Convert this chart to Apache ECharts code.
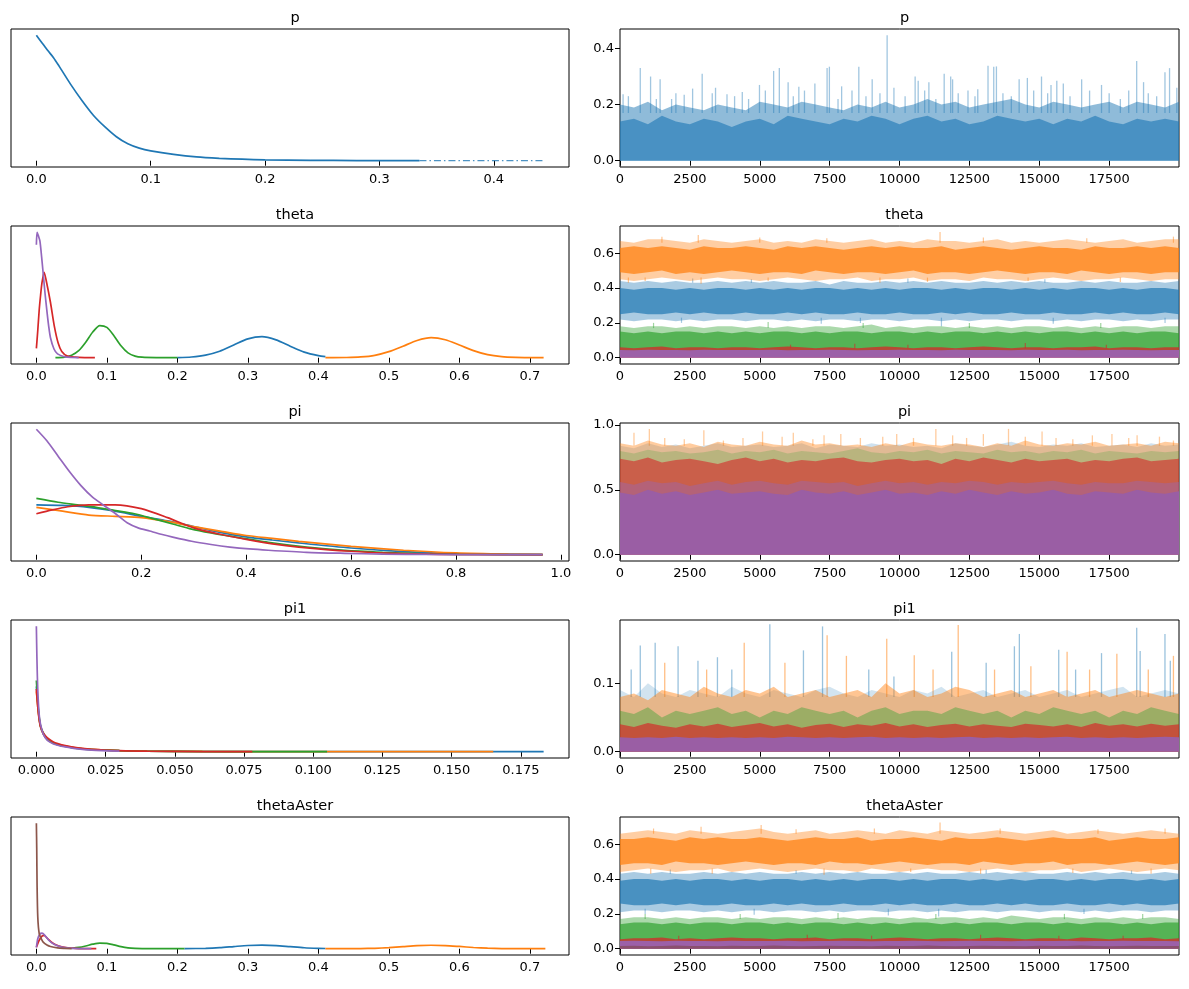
<!DOCTYPE html>
<html><head><meta charset="utf-8">
<script src="https://cdn.jsdelivr.net/npm/echarts@6/dist/echarts.min.js"></script>
<style>html,body{margin:0;padding:0;background:#fff}#c{width:1189px;height:989px}</style>
</head><body><div id="c"></div><script>
// ---------------- tick labels ----------------
const pKdeTicks = [0, 0.1, 0.2, 0.3, 0.4];
const thetaKdeTicks = [0, 0.1, 0.2, 0.3, 0.4, 0.5, 0.6, 0.7];
const piKdeTicks = [0, 0.2, 0.4, 0.6, 0.8, 1.0];
const pi1KdeTicks = [0, 0.025, 0.05, 0.075, 0.1, 0.125, 0.15, 0.175];
const iterTicks = [0, 2500, 5000, 7500, 10000, 12500, 15000, 17500];
const pTraceTicks = [0, 0.2, 0.4];
const thetaTraceTicks = [0, 0.2, 0.4, 0.6];
const piTraceTicks = [0, 0.5, 1.0];
const pi1TraceTicks = [0, 0.1];
const titles = ['p', 'theta', 'pi', 'pi1', 'thetaAster'];

// ---------------- KDE curves (left column) ----------------
const pKdeX = [0,0.005,0.01,0.015,0.02,0.03,0.04,0.05,0.06,0.07,0.08,0.09,0.1,0.12,0.14,0.16,0.18,0.2,0.24,0.28,0.335];
const pKdeY = [23.0,21.6,20.2,18.9,17.3,14.0,11.0,8.3,6.2,4.4,3.1,2.3,1.8,1.15,0.69,0.44,0.28,0.16,0.07,0.035,0.02];
const pKdeTailX = [0.335,0.4436];
const pKdeTailY = [0.02,0.01];

const thetaBlueX = [0.2,0.22,0.24,0.26,0.28,0.30,0.32,0.34,0.36,0.38,0.40,0.41];
const thetaBlueY = [0.08,0.37,1.27,3.2,6.3,9.3,10.4,8.8,5.7,2.76,1.0,0.55];
const thetaOrangeX = [0.41,0.44,0.46,0.48,0.50,0.52,0.54,0.56,0.58,0.60,0.62,0.64,0.66,0.68,0.70,0.7195];
const thetaOrangeY = [0.02,0.1,0.38,1.2,3.0,5.7,8.5,9.9,8.9,6.3,3.5,1.5,0.5,0.13,0.03,0.01];
const thetaGreenX = [0.027,0.04,0.05,0.06,0.07,0.08,0.09,0.1,0.11,0.12,0.13,0.14,0.15,0.17,0.2];
const thetaGreenY = [0.04,0.33,1.25,3.5,7.7,12.7,15.9,15.0,10.9,5.9,2.4,0.8,0.25,0.04,0.01];
const thetaRedX = [0,0.002,0.004,0.006,0.008,0.011,0.0145,0.02,0.0255,0.031,0.036,0.044,0.055,0.07,0.083];
const thetaRedY = [4.6,13.6,23.6,31,37.2,42.2,37.2,27.3,15.5,7.1,3.1,0.8,0.25,0.06,0.01];
const thetaPurpleX = [0,0.001,0.003,0.005,0.0075,0.01,0.0125,0.015,0.0175,0.02,0.025,0.03,0.04,0.05,0.06];
const thetaPurpleY = [55.8,62,60.1,57.7,49.6,40.3,31,22.9,15.5,9.9,4.3,1.9,0.5,0.12,0.02];

const piBlueX = [0,0.05,0.1,0.15,0.2,0.25,0.3,0.35,0.4,0.45,0.5,0.6,0.7,0.8,0.965];
const piBlueY = [1.56,1.54,1.48,1.36,1.2,1.06,0.88,0.7,0.56,0.46,0.37,0.21,0.096,0.032,0.001];
const piOrangeX = [0,0.05,0.1,0.15,0.2,0.25,0.3,0.35,0.4,0.45,0.5,0.6,0.7,0.8,0.9,0.965];
const piOrangeY = [1.48,1.36,1.24,1.2,1.16,1.04,0.88,0.74,0.6,0.51,0.42,0.26,0.14,0.056,0.016,0.004];
const piGreenX = [0,0.0415,0.078,0.114,0.151,0.187,0.224,0.26,0.296,0.333,0.369,0.442,0.515,0.588,0.66,0.733,0.806,0.88,0.965];
const piGreenY = [1.76,1.64,1.56,1.48,1.38,1.28,1.12,0.96,0.8,0.68,0.58,0.39,0.24,0.136,0.076,0.032,0.012,0.004,0.001];
const piRedX = [0,0.03,0.06,0.1,0.15,0.2,0.25,0.3,0.35,0.4,0.45,0.5,0.6,0.7,0.8,0.965];
const piRedY = [1.28,1.4,1.5,1.56,1.56,1.44,1.16,0.84,0.64,0.48,0.34,0.24,0.108,0.032,0.008,0.001];
const piPurpleX = [0,0.02,0.0415,0.063,0.085,0.107,0.129,0.151,0.173,0.194,0.216,0.238,0.26,0.296,0.333,0.369,0.406,0.442,0.515,0.588,0.66,0.75,0.85,0.965];
const piPurpleY = [3.92,3.56,3.08,2.6,2.16,1.8,1.54,1.28,1.0,0.84,0.74,0.64,0.55,0.42,0.32,0.24,0.18,0.14,0.076,0.044,0.02,0.008,0.004,0.001];

const pi1BlueX = [0,0.0005,0.001,0.0015,0.0025,0.004,0.006,0.008,0.01,0.015,0.02,0.03,0.04,0.06,0.08,0.1,0.13,0.16,0.1832];
const pi1BlueY = [130,95,67.5,50,35,23.7,17.5,13.7,11.2,6.5,4,2,1.1,0.5,0.25,0.15,0.1,0.08,0.05];
const pi1OrangeX = [0,0.0005,0.001,0.0015,0.0025,0.004,0.006,0.008,0.01,0.015,0.02,0.03,0.04,0.06,0.08,0.1,0.13,0.165];
const pi1OrangeY = [120,90,65,50,35,25,18,14.2,11.7,7,4.5,2.2,1.2,0.55,0.3,0.2,0.12,0.08];
const pi1GreenX = [0,0.0005,0.001,0.0015,0.0025,0.004,0.006,0.008,0.01,0.015,0.02,0.03,0.04,0.06,0.08,0.105];
const pi1GreenY = [142,100,70,52,37.5,25,17.5,13.7,11.2,6.7,4.2,2,1,0.38,0.2,0.1];
const pi1RedX = [0,0.0005,0.001,0.0015,0.0025,0.004,0.006,0.008,0.01,0.015,0.02,0.03,0.04,0.06,0.078];
const pi1RedY = [125,90,65,50,37.5,27.5,20,15.7,12.5,7.5,4.7,2.2,1.1,0.38,0.12];
const pi1PurpleX = [0,0.0002,0.0005,0.001,0.0015,0.0025,0.004,0.006,0.008,0.01,0.015,0.02,0.03];
const pi1PurpleY = [250,187,125,75,55,35,22.5,16,12.5,10,5.5,3.2,1.2];

const taBlueX = [0.21,0.24,0.26,0.28,0.30,0.32,0.34,0.36,0.38,0.40,0.41];
const taBlueY = [0.2,1.2,3.1,6.2,9.2,10.3,8.9,5.8,2.8,1.05,0.6];
const taOrangeX = [0.41,0.44,0.46,0.48,0.50,0.52,0.54,0.56,0.58,0.60,0.62,0.64,0.66,0.68,0.70,0.722];
const taOrangeY = [0.03,0.1,0.4,1.2,3.0,5.8,8.6,9.8,9.0,6.4,3.5,1.5,0.5,0.14,0.04,0.01];
const taGreenX = [0.05,0.06,0.07,0.08,0.09,0.1,0.11,0.12,0.13,0.14,0.15,0.17,0.19,0.21];
const taGreenY = [1.2,3.6,7.8,12.8,16.0,15.0,10.8,5.9,2.4,0.8,0.3,0.06,0.02,0.01];
const taRedX = [0,0.004,0.008,0.011,0.016,0.023,0.031,0.042,0.055,0.07,0.085];
const taRedY = [4.6,24,35.5,38,28.4,16,8.5,3.5,1.0,0.2,0.05];
const taPurpleX = [0,0.002,0.005,0.008,0.012,0.0175,0.025,0.036,0.047,0.06,0.078];
const taPurpleY = [3.5,28,42,44,38,24,12.4,4.6,1.8,0.5,0.05];
const taBrownX = [0,0.0005,0.001,0.002,0.004,0.007,0.01,0.015,0.02,0.03,0.04,0.05];
const taBrownY = [355,284,178,89,43,28,18,10.6,6.4,2.5,1.1,0.3];

// ---------------- trace envelopes (right column) ----------------
const traceIter = [0,500,1000,1500,2000,2500,3000,3500,4000,4500,5000,5500,6000,6500,7000,7500,8000,8500,9000,9500,10000,10500,11000,11500,12000,12500,13000,13500,14000,14500,15000,15500,16000,16500,17000,17500,18000,18500,19000,19500,19999];

const pCoreHi = [0.14,0.15,0.13,0.16,0.14,0.13,0.15,0.14,0.12,0.14,
 0.15,0.13,0.16,0.15,0.14,0.13,0.15,0.14,0.16,0.15,
 0.13,0.15,0.16,0.14,0.15,0.13,0.14,0.16,0.15,0.14,
 0.15,0.13,0.15,0.14,0.16,0.14,0.13,0.15,0.14,0.15,0.14];
const pFringeHi = [0.2,0.19,0.21,0.18,0.2,0.19,0.18,0.2,0.19,0.18,
 0.21,0.2,0.19,0.21,0.2,0.19,0.18,0.2,0.19,0.21,
 0.19,0.2,0.22,0.2,0.21,0.19,0.2,0.21,0.22,0.2,
 0.19,0.21,0.2,0.19,0.2,0.21,0.19,0.21,0.2,0.19,0.21];
const pSpikes = [[110,0.17,0.237],[300,0.17,0.23],[725,0.17,0.33],[1094,0.17,0.30],[1300,0.17,0.22],[1435,0.17,0.29],[1846,0.17,0.22],[2000,0.17,0.24],[2297,0.17,0.235],[2598,0.17,0.257],[2940,0.17,0.31],[3300,0.17,0.24],[3418,0.17,0.26],[3828,0.17,0.237],[4100,0.17,0.23],[4375,0.17,0.245],[4600,0.17,0.22],[4990,0.17,0.27],[5200,0.17,0.25],[5496,0.17,0.32],[5700,0.17,0.33],[6015,0.17,0.28],[6200,0.17,0.23],[6398,0.17,0.264],[6600,0.17,0.25],[6972,0.17,0.275],[7409,0.17,0.33],[7491,0.17,0.335],[7800,0.17,0.22],[7929,0.17,0.265],[8300,0.17,0.25],[8544,0.17,0.335],[8800,0.17,0.23],[9022,0.17,0.29],[9300,0.17,0.24],[9557,0.17,0.447],[9800,0.17,0.26],[10200,0.17,0.23],[10559,0.17,0.3],[10668,0.17,0.285],[10900,0.17,0.25],[11051,0.17,0.28],[11300,0.17,0.22],[11598,0.17,0.31],[11831,0.17,0.30],[11899,0.17,0.29],[12100,0.17,0.24],[12450,0.17,0.25],[12700,0.17,0.23],[12800,0.17,0.255],[13166,0.17,0.338],[13371,0.17,0.335],[13467,0.17,0.336],[13700,0.17,0.24],[14000,0.17,0.23],[14280,0.17,0.29],[14574,0.17,0.295],[14800,0.17,0.25],[15080,0.17,0.3],[15300,0.17,0.24],[15420,0.17,0.27],[15627,0.17,0.285],[15860,0.17,0.275],[16100,0.17,0.23],[16516,0.17,0.29],[16800,0.17,0.25],[17227,0.17,0.27],[17500,0.17,0.24],[17900,0.17,0.22],[18200,0.17,0.25],[18485,0.17,0.355],[18731,0.17,0.28],[18900,0.17,0.24],[19200,0.17,0.23],[19497,0.17,0.315],[19661,0.17,0.33],[19921,0.17,0.26]];

// theta
const thBlFrHi = [0.44,0.43,0.44,0.43,0.44,0.43,0.43,0.44,0.43,0.44,
 0.43,0.44,0.43,0.43,0.44,0.42,0.44,0.43,0.43,0.44,
 0.43,0.44,0.43,0.44,0.43,0.43,0.44,0.43,0.44,0.43,
 0.44,0.43,0.43,0.44,0.43,0.44,0.43,0.43,0.44,0.43,0.44];
const thBlDnHi = [0.40,0.39,0.40,0.40,0.39,0.40,0.39,0.40,0.40,0.39,
 0.40,0.39,0.40,0.39,0.40,0.40,0.39,0.40,0.39,0.40,
 0.39,0.40,0.40,0.39,0.40,0.39,0.40,0.40,0.39,0.40,
 0.39,0.40,0.39,0.40,0.40,0.39,0.40,0.39,0.40,0.40,0.39];
const thBlDnLo = [0.25,0.26,0.25,0.25,0.26,0.25,0.26,0.25,0.25,0.26,
 0.25,0.25,0.26,0.25,0.26,0.25,0.25,0.26,0.25,0.25,
 0.26,0.25,0.25,0.26,0.25,0.26,0.25,0.25,0.26,0.25,
 0.25,0.26,0.25,0.25,0.26,0.25,0.26,0.25,0.25,0.26,0.25];
const thBlFrLo = [0.22,0.21,0.22,0.22,0.21,0.22,0.21,0.22,0.22,0.21,
 0.22,0.22,0.21,0.22,0.21,0.22,0.22,0.21,0.22,0.22,
 0.21,0.22,0.22,0.21,0.22,0.21,0.22,0.22,0.21,0.22,
 0.22,0.21,0.22,0.21,0.22,0.22,0.21,0.22,0.21,0.22,0.22];
const thOrFrHi = [0.67,0.66,0.68,0.68,0.67,0.66,0.68,0.67,0.66,0.67,
 0.68,0.66,0.67,0.66,0.68,0.67,0.66,0.67,0.68,0.66,
 0.67,0.66,0.68,0.67,0.67,0.66,0.67,0.68,0.66,0.67,
 0.66,0.67,0.68,0.67,0.66,0.67,0.68,0.66,0.67,0.68,0.68];
const thOrDnHi = [0.63,0.64,0.63,0.64,0.63,0.62,0.64,0.63,0.63,0.64,
 0.63,0.62,0.64,0.63,0.64,0.63,0.62,0.63,0.64,0.63,
 0.64,0.63,0.63,0.64,0.62,0.63,0.64,0.63,0.62,0.63,
 0.64,0.63,0.63,0.62,0.64,0.63,0.63,0.64,0.63,0.64,0.63];
const thOrDnLo = [0.49,0.48,0.49,0.5,0.48,0.49,0.48,0.49,0.5,0.49,
 0.48,0.49,0.49,0.48,0.5,0.49,0.48,0.49,0.49,0.48,
 0.49,0.5,0.48,0.49,0.49,0.48,0.49,0.5,0.49,0.48,
 0.49,0.49,0.48,0.5,0.49,0.48,0.49,0.49,0.48,0.49,0.49];
const thOrFrLo = [0.45,0.44,0.45,0.46,0.45,0.44,0.45,0.46,0.45,0.45,
 0.44,0.45,0.46,0.45,0.44,0.45,0.45,0.46,0.44,0.45,
 0.45,0.46,0.44,0.45,0.45,0.44,0.46,0.45,0.45,0.44,
 0.45,0.46,0.45,0.44,0.45,0.45,0.46,0.45,0.44,0.45,0.45];
const thGrFrHi = [0.18,0.17,0.18,0.18,0.17,0.18,0.17,0.18,0.18,0.17,
 0.18,0.17,0.18,0.17,0.18,0.18,0.17,0.18,0.19,0.17,
 0.18,0.17,0.18,0.18,0.17,0.18,0.17,0.18,0.17,0.18,
 0.18,0.17,0.18,0.17,0.18,0.17,0.18,0.18,0.17,0.18,0.18];
const thGrDnHi = [0.15,0.14,0.15,0.14,0.15,0.15,0.14,0.15,0.14,0.15,
 0.14,0.15,0.15,0.14,0.15,0.14,0.15,0.15,0.14,0.15,
 0.15,0.14,0.15,0.14,0.15,0.15,0.14,0.15,0.14,0.15,
 0.14,0.15,0.15,0.14,0.15,0.14,0.15,0.14,0.15,0.15,0.14];
const thGrLo = [0.03,0.03,0.035,0.03,0.03,0.035,0.03,0.03,0.03,0.035,
 0.03,0.03,0.035,0.03,0.03,0.03,0.035,0.03,0.03,0.03,
 0.035,0.03,0.03,0.03,0.035,0.03,0.03,0.035,0.03,0.03,
 0.03,0.035,0.03,0.03,0.03,0.035,0.03,0.03,0.035,0.03,0.03];
const thRdHi = [0.06,0.055,0.06,0.065,0.055,0.06,0.06,0.055,0.06,0.06,
 0.055,0.06,0.065,0.06,0.055,0.06,0.06,0.055,0.06,0.065,
 0.06,0.055,0.06,0.06,0.055,0.06,0.065,0.06,0.055,0.06,
 0.06,0.055,0.06,0.06,0.065,0.055,0.06,0.06,0.055,0.06,0.06];
const thPuHi = [0.045,0.043,0.046,0.044,0.045,0.043,0.046,0.045,0.044,0.045,
 0.044,0.046,0.043,0.045,0.044,0.046,0.045,0.043,0.045,0.044,
 0.046,0.044,0.045,0.043,0.046,0.045,0.044,0.045,0.043,0.046,
 0.044,0.045,0.046,0.043,0.045,0.044,0.046,0.045,0.043,0.045,0.044];
const thOrSpikes = [[1500,0.66,0.695],[2800,0.66,0.705],[5000,0.66,0.69],[7400,0.66,0.685],[11450,0.66,0.722],[13000,0.66,0.69],[16700,0.66,0.685],[19800,0.66,0.695],[300,0.43,0.46],[900,0.44,0.46],[2900,0.425,0.46],[5300,0.44,0.46],[9300,0.43,0.46],[11000,0.435,0.46],[14600,0.44,0.46],[17900,0.435,0.46]];
const thBlSpikes = [[2600,0.43,0.455],[4700,0.43,0.45],[10300,0.43,0.455],[15200,0.43,0.45],[2200,0.2,0.23],[7200,0.195,0.23],[8600,0.2,0.23],[11500,0.18,0.23],[15500,0.195,0.23],[19500,0.2,0.23]];
const thGrSpikes = [[1200,0.17,0.2],[5300,0.17,0.205],[8700,0.17,0.2],[12500,0.17,0.2],[17200,0.17,0.2]];
const thRdSpikes = [[6100,0.055,0.075],[8400,0.055,0.08],[10300,0.055,0.075],[14500,0.055,0.085],[17400,0.055,0.075]];

// pi
const piBlHi = [0.84,0.82,0.86,0.83,0.85,0.82,0.84,0.86,0.83,0.84,
 0.85,0.83,0.84,0.86,0.82,0.85,0.84,0.83,0.86,0.84,
 0.85,0.83,0.84,0.82,0.86,0.84,0.83,0.85,0.87,0.84,
 0.83,0.85,0.84,0.86,0.83,0.84,0.85,0.83,0.86,0.84,0.85];
const piOrHi = [0.86,0.84,0.88,0.85,0.84,0.86,0.83,0.87,0.85,0.84,
 0.87,0.85,0.84,0.88,0.85,0.86,0.84,0.85,0.83,0.86,
 0.84,0.87,0.85,0.84,0.86,0.85,0.83,0.86,0.84,0.88,
 0.85,0.84,0.86,0.85,0.87,0.84,0.85,0.86,0.84,0.87,0.86];
const piGrHi = [0.8,0.78,0.81,0.79,0.8,0.78,0.79,0.81,0.78,0.8,
 0.79,0.81,0.78,0.8,0.79,0.78,0.8,0.82,0.79,0.78,
 0.8,0.79,0.81,0.78,0.8,0.79,0.78,0.81,0.79,0.8,
 0.78,0.8,0.79,0.81,0.78,0.8,0.79,0.78,0.8,0.79,0.8];
const piRdHi = [0.74,0.72,0.75,0.71,0.73,0.74,0.72,0.7,0.73,0.75,
 0.72,0.74,0.71,0.73,0.72,0.74,0.75,0.72,0.71,0.73,
 0.74,0.72,0.73,0.7,0.74,0.72,0.75,0.73,0.71,0.74,
 0.72,0.73,0.74,0.71,0.73,0.72,0.74,0.75,0.72,0.73,0.74];
const piPuFrHi = [0.56,0.54,0.57,0.55,0.56,0.53,0.55,0.57,0.54,0.56,
 0.57,0.55,0.54,0.57,0.56,0.55,0.56,0.53,0.55,0.57,
 0.55,0.56,0.54,0.56,0.55,0.57,0.56,0.54,0.56,0.55,
 0.56,0.57,0.55,0.54,0.56,0.55,0.55,0.57,0.56,0.55,0.56];
const piPuHi = [0.48,0.46,0.5,0.47,0.49,0.46,0.48,0.5,0.47,0.48,
 0.49,0.47,0.46,0.5,0.48,0.47,0.49,0.46,0.48,0.5,
 0.47,0.48,0.46,0.49,0.47,0.5,0.48,0.46,0.49,0.47,
 0.48,0.5,0.47,0.46,0.49,0.48,0.47,0.5,0.48,0.47,0.49];
const piSpikes = [[500,0.84,0.94],[1050,0.84,0.97],[1600,0.84,0.9],[2300,0.84,0.89],[3000,0.84,0.96],[3700,0.84,0.88],[4400,0.84,0.9],[5100,0.84,0.95],[5800,0.84,0.91],[6200,0.84,0.94],[6900,0.84,0.89],[7300,0.84,0.92],[7900,0.84,0.93],[8600,0.84,0.9],[9400,0.84,0.91],[9900,0.84,0.93],[10500,0.84,0.9],[11300,0.84,0.97],[11900,0.84,0.92],[12400,0.84,0.9],[13000,0.84,0.93],[13900,0.84,0.97],[14500,0.84,0.91],[15100,0.84,0.95],[15600,0.84,0.9],[16200,0.84,0.89],[16900,0.84,0.92],[17600,0.84,0.93],[18200,0.84,0.9],[18500,0.84,0.92],[19300,0.84,0.91],[19800,0.84,0.88]];

// pi1
const pi1BlHi = [0.09,0.08,0.1,0.085,0.08,0.09,0.085,0.08,0.095,0.085,
 0.08,0.09,0.085,0.08,0.09,0.095,0.085,0.08,0.09,0.085,
 0.08,0.09,0.085,0.095,0.08,0.085,0.09,0.08,0.085,0.09,
 0.08,0.085,0.09,0.08,0.085,0.09,0.095,0.08,0.085,0.09,0.085];
const pi1OrHi = [0.08,0.085,0.075,0.09,0.085,0.08,0.095,0.085,0.08,0.09,
 0.085,0.095,0.08,0.085,0.09,0.08,0.085,0.09,0.08,0.1,
 0.085,0.09,0.08,0.085,0.095,0.09,0.08,0.085,0.09,0.08,
 0.085,0.09,0.08,0.085,0.09,0.08,0.085,0.09,0.085,0.08,0.085];
const pi1GrHi = [0.06,0.055,0.065,0.05,0.06,0.055,0.06,0.065,0.055,0.06,
 0.05,0.06,0.055,0.065,0.06,0.055,0.06,0.05,0.06,0.065,
 0.055,0.06,0.06,0.055,0.065,0.06,0.055,0.06,0.05,0.06,
 0.055,0.065,0.06,0.055,0.06,0.05,0.06,0.055,0.065,0.06,0.055];
const pi1RdHi = [0.04,0.036,0.042,0.038,0.035,0.04,0.037,0.041,0.036,0.039,
 0.042,0.037,0.04,0.035,0.039,0.041,0.036,0.04,0.038,0.042,
 0.037,0.04,0.036,0.039,0.041,0.037,0.04,0.038,0.036,0.041,
 0.039,0.037,0.04,0.036,0.042,0.038,0.04,0.037,0.041,0.038,0.04];
const pi1PuHi = [0.021,0.02,0.021,0.02,0.022,0.02,0.021,0.02,0.021,0.02,
 0.021,0.02,0.022,0.021,0.02,0.021,0.02,0.021,0.022,0.02,
 0.021,0.02,0.021,0.02,0.021,0.022,0.02,0.021,0.02,0.021,
 0.02,0.021,0.022,0.02,0.021,0.02,0.021,0.02,0.021,0.022,0.021];
const pi1BlSpikes = [[725,0.08,0.155],[1258,0.08,0.159],[2078,0.08,0.154],[2789,0.08,0.133],[3486,0.08,0.138],[5360,0.08,0.186],[6563,0.08,0.148],[7246,0.08,0.183],[8900,0.08,0.12],[11868,0.08,0.146],[14110,0.08,0.154],[14288,0.08,0.172],[15696,0.08,0.149],[17227,0.08,0.144],[18486,0.08,0.181],[18610,0.08,0.147],[19497,0.08,0.172],[19688,0.08,0.133],[400,0.08,0.12],[4000,0.08,0.12],[9800,0.08,0.11],[13100,0.08,0.13],[16300,0.08,0.12]];
const pi1OrSpikes = [[1600,0.08,0.13],[3100,0.08,0.12],[4444,0.08,0.159],[5900,0.08,0.13],[7410,0.08,0.17],[8100,0.08,0.14],[9543,0.08,0.165],[10527,0.08,0.141],[11200,0.08,0.12],[12100,0.08,0.185],[13400,0.08,0.12],[14700,0.08,0.125],[15996,0.08,0.146],[16800,0.08,0.12],[17776,0.08,0.143],[18900,0.08,0.12],[19800,0.08,0.14]];

// thetaAster
const taBlFrHi = [0.43,0.44,0.43,0.44,0.43,0.43,0.44,0.43,0.44,0.43,
 0.44,0.43,0.43,0.44,0.43,0.44,0.43,0.44,0.43,0.43,
 0.44,0.43,0.44,0.43,0.43,0.44,0.43,0.44,0.43,0.44,
 0.43,0.43,0.44,0.43,0.44,0.43,0.44,0.43,0.43,0.44,0.43];
const taBlDnHi = [0.39,0.40,0.40,0.39,0.40,0.39,0.40,0.40,0.39,0.40,
 0.39,0.40,0.40,0.39,0.40,0.39,0.40,0.39,0.40,0.40,
 0.39,0.40,0.39,0.40,0.40,0.39,0.40,0.39,0.40,0.39,
 0.40,0.40,0.39,0.40,0.39,0.40,0.40,0.39,0.40,0.39,0.40];
const taBlDnLo = [0.26,0.25,0.25,0.26,0.25,0.26,0.25,0.25,0.26,0.25,
 0.25,0.26,0.25,0.26,0.25,0.25,0.26,0.25,0.25,0.26,
 0.25,0.26,0.25,0.25,0.26,0.25,0.25,0.26,0.25,0.26,
 0.25,0.25,0.26,0.25,0.25,0.26,0.25,0.26,0.25,0.25,0.26];
const taBlFrLo = [0.21,0.22,0.22,0.21,0.22,0.22,0.21,0.22,0.21,0.22,
 0.22,0.21,0.22,0.22,0.21,0.22,0.21,0.22,0.22,0.21,
 0.22,0.22,0.21,0.22,0.21,0.22,0.22,0.21,0.22,0.22,
 0.21,0.22,0.22,0.21,0.22,0.21,0.22,0.22,0.21,0.22,0.22];
const taOrFrHi = [0.66,0.67,0.68,0.67,0.66,0.68,0.67,0.66,0.67,0.68,
 0.69,0.67,0.66,0.67,0.68,0.66,0.67,0.68,0.67,0.66,
 0.68,0.67,0.66,0.68,0.67,0.66,0.67,0.68,0.67,0.66,
 0.67,0.68,0.66,0.67,0.68,0.67,0.66,0.67,0.68,0.67,0.66];
const taOrDnHi = [0.63,0.63,0.64,0.63,0.62,0.64,0.63,0.64,0.63,0.63,
 0.64,0.63,0.62,0.63,0.64,0.63,0.63,0.64,0.62,0.63,
 0.63,0.64,0.63,0.62,0.64,0.63,0.63,0.64,0.63,0.62,
 0.63,0.64,0.63,0.63,0.64,0.62,0.63,0.64,0.63,0.63,0.64];
const taOrDnLo = [0.48,0.49,0.49,0.48,0.5,0.49,0.49,0.48,0.49,0.5,
 0.49,0.48,0.49,0.49,0.48,0.5,0.49,0.49,0.48,0.49,
 0.5,0.49,0.48,0.49,0.49,0.48,0.5,0.49,0.48,0.49,
 0.49,0.5,0.48,0.49,0.49,0.48,0.49,0.5,0.49,0.48,0.49];
const taOrFrLo = [0.44,0.45,0.46,0.45,0.44,0.45,0.45,0.46,0.44,0.45,
 0.46,0.45,0.44,0.45,0.46,0.45,0.45,0.44,0.46,0.45,
 0.44,0.45,0.46,0.45,0.45,0.44,0.45,0.46,0.45,0.44,
 0.45,0.45,0.46,0.44,0.45,0.46,0.45,0.44,0.45,0.46,0.45];
const taGrFrHi = [0.17,0.18,0.18,0.17,0.18,0.17,0.18,0.18,0.17,0.18,
 0.17,0.18,0.18,0.17,0.18,0.17,0.18,0.17,0.18,0.18,
 0.17,0.18,0.17,0.18,0.18,0.17,0.18,0.17,0.19,0.18,
 0.17,0.18,0.18,0.17,0.18,0.17,0.18,0.17,0.18,0.18,0.17];
const taGrDnHi = [0.14,0.15,0.15,0.14,0.15,0.14,0.15,0.15,0.14,0.15,
 0.15,0.14,0.15,0.14,0.15,0.15,0.14,0.15,0.14,0.15,
 0.14,0.15,0.15,0.14,0.15,0.14,0.15,0.15,0.14,0.15,
 0.15,0.14,0.15,0.14,0.15,0.15,0.14,0.15,0.14,0.15,0.15];
const taGrLo = [0.03,0.035,0.03,0.03,0.03,0.035,0.03,0.03,0.035,0.03,
 0.03,0.03,0.035,0.03,0.03,0.035,0.03,0.03,0.03,0.035,
 0.03,0.03,0.035,0.03,0.03,0.03,0.035,0.03,0.03,0.035,
 0.03,0.03,0.03,0.035,0.03,0.03,0.035,0.03,0.03,0.03,0.035];
const taRdHi = [0.055,0.06,0.06,0.065,0.055,0.06,0.055,0.06,0.065,0.06,
 0.06,0.055,0.06,0.06,0.065,0.055,0.06,0.06,0.055,0.06,
 0.065,0.06,0.055,0.06,0.06,0.055,0.06,0.065,0.06,0.055,
 0.06,0.06,0.055,0.065,0.06,0.055,0.06,0.06,0.065,0.055,0.06];
const taPuHi = [0.044,0.046,0.045,0.043,0.046,0.044,0.045,0.043,0.046,0.045,
 0.044,0.045,0.046,0.043,0.045,0.044,0.046,0.045,0.043,0.045,
 0.044,0.046,0.045,0.043,0.045,0.046,0.044,0.045,0.043,0.046,
 0.045,0.044,0.046,0.043,0.045,0.044,0.046,0.045,0.044,0.045,0.043];
const taBrHi = [0.015,0.017,0.014,0.016,0.018,0.015,0.016,0.014,0.017,0.015,
 0.016,0.018,0.015,0.014,0.016,0.017,0.015,0.016,0.014,0.017,
 0.015,0.016,0.018,0.015,0.014,0.016,0.017,0.015,0.016,0.014,
 0.017,0.015,0.016,0.018,0.015,0.014,0.016,0.017,0.015,0.016,0.015];
const taOrSpikes = [[1200,0.66,0.69],[2900,0.66,0.70],[5050,0.66,0.71],[6300,0.66,0.685],[9100,0.66,0.69],[11450,0.66,0.725],[13600,0.66,0.69],[17100,0.66,0.685],[19500,0.66,0.69],[1100,0.43,0.46],[3300,0.43,0.46],[7300,0.425,0.46],[10400,0.44,0.46],[12900,0.43,0.46],[16200,0.435,0.46],[19000,0.43,0.46]];
const taBlSpikes = [[1800,0.43,0.455],[6300,0.43,0.45],[13100,0.43,0.455],[18300,0.43,0.45],[900,0.2,0.23],[4800,0.195,0.23],[9600,0.19,0.23],[11400,0.185,0.23],[16600,0.2,0.23]];
const taGrSpikes = [[900,0.17,0.2],[4300,0.17,0.2],[7800,0.17,0.205],[11300,0.17,0.2],[15900,0.17,0.2],[18700,0.17,0.2]];
const taRdSpikes = [[2100,0.055,0.075],[6700,0.055,0.08],[9000,0.055,0.075],[12900,0.055,0.08],[15700,0.055,0.075],[18000,0.055,0.075]];

// ---------------- chart ----------------
const FONT = 'DejaVu Sans';
const LEFT_X = 11, LEFT_W = 558, RIGHT_X = 620, RIGHT_W = 559;
const ROW_TOP = [29, 226, 423, 620, 817], ROW_H = 138;
const C = {blue:[31,119,180], orange:[255,127,14], green:[44,160,44], red:[214,39,40], purple:[148,103,189], brown:[140,86,75]};
const rgba = (c, a) => `rgba(${c[0]},${c[1]},${c[2]},${a})`;
const hex = c => rgba(c, 1);

const kdeRanges = [
  {x:[-0.02218, 0.46578], y:[-1.15, 24.15], ticks:pKdeTicks, dec:1},
  {x:[-0.036, 0.7555], y:[-3.1, 65.1], ticks:thetaKdeTicks, dec:1},
  {x:[-0.04835, 1.01535], y:[-0.196, 4.116], ticks:piKdeTicks, dec:1},
  {x:[-0.00916, 0.19236], y:[-12.5, 262.5], ticks:pi1KdeTicks, dec:3},
  {x:[-0.036, 0.7555], y:[-17.75, 372.75], ticks:thetaKdeTicks, dec:1}
];
const traceRanges = [
  {y:[-0.02235, 0.46935], ticks:pTraceTicks},
  {y:[-0.036, 0.756], ticks:thetaTraceTicks},
  {y:[-0.04835, 1.01535], ticks:piTraceTicks},
  {y:[-0.00916, 0.19236], ticks:pi1TraceTicks},
  {y:[-0.036, 0.756], ticks:thetaTraceTicks}
];

const grid = [], xAxis = [], yAxis = [], title = [], series = [];
const labelStyle = {color:'#000', fontFamily:FONT, fontSize:13};
const tickStyle = {lineStyle:{color:'#000', width:1}, length:5, inside:false};

for (let r = 0; r < 5; r++) {
  const top = ROW_TOP[r];
  const kr = kdeRanges[r], tr = traceRanges[r];
  grid.push({left:LEFT_X, top, width:LEFT_W, height:ROW_H, show:true, borderColor:'#000', borderWidth:1, backgroundColor:'transparent', containLabel:false});
  xAxis.push({gridIndex:2*r, type:'value', min:kr.x[0], max:kr.x[1], splitLine:{show:false}, axisLine:{show:false},
    axisTick:Object.assign({show:true, customValues:kr.ticks}, tickStyle),
    axisLabel:Object.assign({customValues:kr.ticks, margin:6, formatter:v => v.toFixed(kr.dec)}, labelStyle)});
  yAxis.push({gridIndex:2*r, type:'value', min:kr.y[0], max:kr.y[1], show:false, splitLine:{show:false}});
  grid.push({left:RIGHT_X, top, width:RIGHT_W, height:ROW_H, show:true, borderColor:'#000', borderWidth:1, backgroundColor:'transparent', containLabel:false});
  xAxis.push({gridIndex:2*r+1, type:'value', min:0, max:19999, splitLine:{show:false}, axisLine:{show:false},
    axisTick:Object.assign({show:true, customValues:iterTicks}, tickStyle),
    axisLabel:Object.assign({customValues:iterTicks, margin:6, formatter:v => String(Math.round(v))}, labelStyle)});
  yAxis.push({gridIndex:2*r+1, type:'value', min:tr.y[0], max:tr.y[1], splitLine:{show:false}, axisLine:{show:false},
    axisTick:Object.assign({show:true, customValues:tr.ticks}, tickStyle),
    axisLabel:Object.assign({customValues:tr.ticks, margin:6, formatter:v => v.toFixed(1)}, labelStyle)});
  title.push({text:titles[r], left:LEFT_X + LEFT_W/2, top:top - 23, textAlign:'center', textStyle:{fontFamily:FONT, fontSize:14.5, fontWeight:'normal', color:'#000'}});
  title.push({text:titles[r], left:RIGHT_X + RIGHT_W/2, top:top - 23, textAlign:'center', textStyle:{fontFamily:FONT, fontSize:14.5, fontWeight:'normal', color:'#000'}});
}

function kde(gi, xs, ys, color, extra) {
  return Object.assign({type:'line', xAxisIndex:gi, yAxisIndex:gi, data:xs.map((x, i) => [x, ys[i]]),
    showSymbol:false, symbol:'none', smooth:0.25, silent:true, clip:true,
    lineStyle:{color, width:1.7}}, extra || {});
}
function band(gi, xs, lo, hi, color) {
  return {type:'custom', xAxisIndex:gi, yAxisIndex:gi, coordinateSystem:'cartesian2d', silent:true, clip:true,
    data:[[xs[0], 0]],
    renderItem:(params, api) => {
      const pts = [];
      for (let i = 0; i < xs.length; i++) pts.push(api.coord([xs[i], hi[i]]));
      for (let i = xs.length - 1; i >= 0; i--) pts.push(api.coord([xs[i], Array.isArray(lo) ? lo[i] : lo]));
      return {type:'polygon', shape:{points:pts}, style:{fill:color}};
    }};
}
function spikes(gi, arr, color, w) {
  return {type:'custom', xAxisIndex:gi, yAxisIndex:gi, coordinateSystem:'cartesian2d', silent:true, clip:true,
    dimensions:['x','lo','hi'], encode:{x:0, y:[1,2]}, data:arr,
    renderItem:(params, api) => {
      const a = api.coord([api.value(0), api.value(1)]);
      const b = api.coord([api.value(0), api.value(2)]);
      return {type:'line', shape:{x1:a[0], y1:a[1], x2:b[0], y2:b[1]}, style:{stroke:color, lineWidth:w || 1.2}};
    }};
}

// Row 0: p
series.push(kde(0, pKdeX, pKdeY, hex(C.blue)));
series.push(kde(0, pKdeTailX, pKdeTailY, rgba(C.blue, 0.8), {smooth:false, lineStyle:{color:rgba(C.blue,0.8), width:1.4, type:[7,3,1.5,3]}}));
series.push(spikes(1, pSpikes, rgba(C.blue, 0.42), 1.3));
series.push(band(1, traceIter, 0, pFringeHi, rgba(C.blue, 0.5)));
series.push(band(1, traceIter, 0, pCoreHi, rgba(C.blue, 0.62)));

// Row 1: theta
series.push(kde(2, thetaBlueX, thetaBlueY, hex(C.blue)));
series.push(kde(2, thetaOrangeX, thetaOrangeY, hex(C.orange)));
series.push(kde(2, thetaGreenX, thetaGreenY, hex(C.green)));
series.push(kde(2, thetaRedX, thetaRedY, hex(C.red)));
series.push(kde(2, thetaPurpleX, thetaPurpleY, hex(C.purple)));
function thetaTrace(gi, d) {
  series.push(spikes(gi, d.blSp, rgba(C.blue, 0.4), 1.2));
  series.push(band(gi, traceIter, d.blFrLo, d.blFrHi, rgba(C.blue, 0.38)));
  series.push(band(gi, traceIter, d.blDnLo, d.blDnHi, rgba(C.blue, 0.7)));
  series.push(spikes(gi, d.orSp, rgba(C.orange, 0.45), 1.2));
  series.push(band(gi, traceIter, d.orFrLo, d.orFrHi, rgba(C.orange, 0.38)));
  series.push(band(gi, traceIter, d.orDnLo, d.orDnHi, rgba(C.orange, 0.72)));
  series.push(spikes(gi, d.grSp, rgba(C.green, 0.45), 1.2));
  series.push(band(gi, traceIter, d.grLo, d.grFrHi, rgba(C.green, 0.4)));
  series.push(band(gi, traceIter, d.grLo, d.grDnHi, rgba(C.green, 0.68)));
  series.push(spikes(gi, d.rdSp, rgba(C.red, 0.6), 1.2));
  series.push(band(gi, traceIter, 0, d.rdHi, rgba(C.red, 0.75)));
  series.push(band(gi, traceIter, 0, d.puHi, 'rgb(156,96,168)'));
}
thetaTrace(3, {blSp:thBlSpikes, blFrLo:thBlFrLo, blFrHi:thBlFrHi, blDnLo:thBlDnLo, blDnHi:thBlDnHi,
  orSp:thOrSpikes, orFrLo:thOrFrLo, orFrHi:thOrFrHi, orDnLo:thOrDnLo, orDnHi:thOrDnHi,
  grSp:thGrSpikes, grLo:thGrLo, grFrHi:thGrFrHi, grDnHi:thGrDnHi, rdSp:thRdSpikes, rdHi:thRdHi, puHi:thPuHi});

// Row 2: pi
series.push(kde(4, piBlueX, piBlueY, hex(C.blue)));
series.push(kde(4, piOrangeX, piOrangeY, hex(C.orange)));
series.push(kde(4, piGreenX, piGreenY, hex(C.green)));
series.push(kde(4, piRedX, piRedY, hex(C.red)));
series.push(kde(4, piPurpleX, piPurpleY, hex(C.purple)));
series.push(spikes(5, piSpikes, rgba(C.orange, 0.4), 1.3));
series.push(band(5, traceIter, 0, piBlHi, rgba(C.blue, 0.22)));
series.push(band(5, traceIter, 0, piOrHi, rgba(C.orange, 0.4)));
series.push(band(5, traceIter, 0, piGrHi, rgba(C.green, 0.22)));
series.push(band(5, traceIter, 0, piRdHi, rgba(C.red, 0.6)));
series.push(band(5, traceIter, 0, piPuFrHi, rgba(C.purple, 0.4)));
series.push(band(5, traceIter, 0, piPuHi, 'rgb(154,94,164)'));

// Row 3: pi1
series.push(kde(6, pi1BlueX, pi1BlueY, hex(C.blue)));
series.push(kde(6, pi1OrangeX, pi1OrangeY, hex(C.orange)));
series.push(kde(6, pi1GreenX, pi1GreenY, hex(C.green)));
series.push(kde(6, pi1RedX, pi1RedY, hex(C.red)));
series.push(kde(6, pi1PurpleX, pi1PurpleY, hex(C.purple)));
series.push(spikes(7, pi1BlSpikes, rgba(C.blue, 0.45), 1.3));
series.push(spikes(7, pi1OrSpikes, rgba(C.orange, 0.5), 1.3));
series.push(band(7, traceIter, 0, pi1BlHi, rgba(C.blue, 0.2)));
series.push(band(7, traceIter, 0, pi1OrHi, rgba(C.orange, 0.45)));
series.push(band(7, traceIter, 0, pi1GrHi, rgba(C.green, 0.4)));
series.push(band(7, traceIter, 0, pi1RdHi, rgba(C.red, 0.68)));
series.push(band(7, traceIter, 0, pi1PuHi, 'rgb(154,94,164)'));

// Row 4: thetaAster
series.push(kde(8, taBlueX, taBlueY, hex(C.blue)));
series.push(kde(8, taOrangeX, taOrangeY, hex(C.orange)));
series.push(kde(8, taGreenX, taGreenY, hex(C.green)));
series.push(kde(8, taRedX, taRedY, hex(C.red)));
series.push(kde(8, taPurpleX, taPurpleY, hex(C.purple)));
series.push(kde(8, taBrownX, taBrownY, hex(C.brown)));
thetaTrace(9, {blSp:taBlSpikes, blFrLo:taBlFrLo, blFrHi:taBlFrHi, blDnLo:taBlDnLo, blDnHi:taBlDnHi,
  orSp:taOrSpikes, orFrLo:taOrFrLo, orFrHi:taOrFrHi, orDnLo:taOrDnLo, orDnHi:taOrDnHi,
  grSp:taGrSpikes, grLo:taGrLo, grFrHi:taGrFrHi, grDnHi:taGrDnHi, rdSp:taRdSpikes, rdHi:taRdHi, puHi:taPuHi});
series.push(band(9, traceIter, 0, taBrHi, 'rgb(138,80,110)'));

const chart = echarts.init(document.getElementById('c'), null, {renderer:'canvas'});
chart.setOption({animation:false, backgroundColor:'#fff', title, grid, xAxis, yAxis, series});
</script></body></html>
